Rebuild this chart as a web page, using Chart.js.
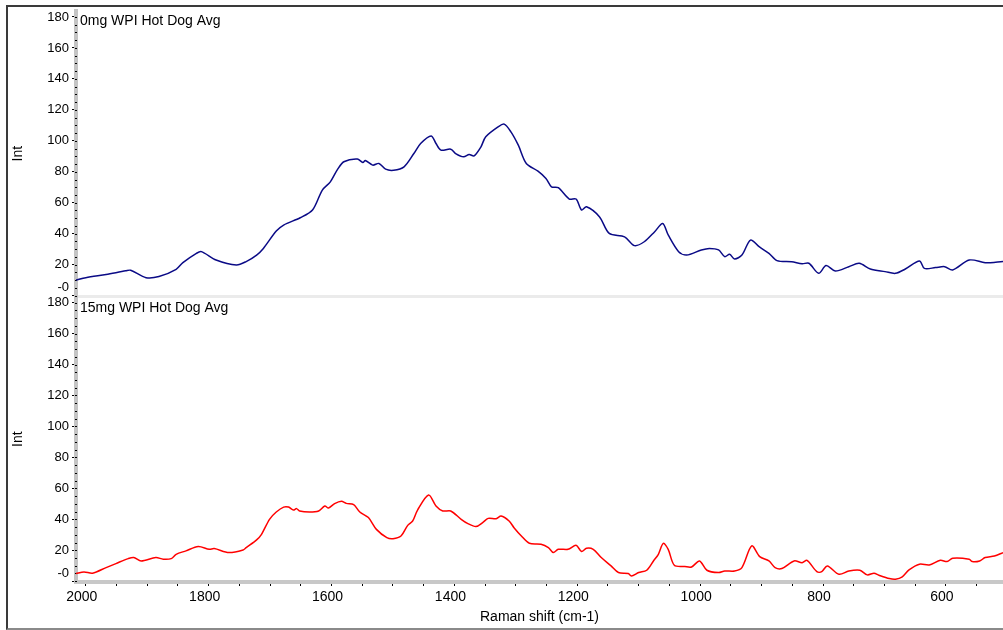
<!DOCTYPE html>
<html>
<head>
<meta charset="utf-8">
<title>Raman spectra</title>
<script src="https://cdn.jsdelivr.net/npm/chart.js@4.4.0/dist/chart.umd.min.js"></script>
<style>
  html, body { margin: 0; padding: 0; background: #fff; }
  #wrap { position: relative; width: 1003px; height: 630px; overflow: hidden; }
  #frame { position: absolute; left: 6px; top: 5px; width: 1010px; height: 621px;
           border: 2px solid #3a3a3a; border-bottom-color: #8a8a8a; }
  canvas { position: absolute; left: 0; top: 0; }
</style>
</head>
<body>
<div id="wrap">
  <div id="frame"></div>
  <canvas id="ramanChart" width="1003" height="630"></canvas>
</div>
<script>
// 0mg WPI spectrum (Raman shift cm-1 / intensity)
const shiftTop = [
  2016, 2000, 1967, 1935, 1927, 1902, 1881, 1853, 1842, 1820,
  1812, 1788, 1755, 1739, 1722, 1711, 1690, 1678, 1651, 1631,
  1615, 1602, 1590, 1580, 1558, 1549, 1545, 1533, 1523, 1512,
  1499, 1482, 1466, 1455, 1438, 1430, 1422, 1406, 1398, 1385,
  1376, 1368, 1357, 1349, 1329, 1319, 1308, 1296, 1283, 1264,
  1251, 1242, 1231, 1213, 1202, 1193, 1185, 1164, 1148, 1123,
  1107, 1091, 1074, 1061, 1052, 1035, 1022, 998, 985, 970,
  960, 952, 944, 932, 918, 904, 888, 875, 851, 834,
  823, 807, 795, 780, 758, 741, 723, 699, 682, 666,
  643, 635, 617, 602, 589, 562, 536, 519, 507
];
const intTop = [
  10, 11.6, 13.7, 16, 16.4, 11.6, 12.3, 17, 21.3, 27.3,
  28.4, 23, 19.8, 22, 26.2, 30.5, 41.7, 45.6, 50.3, 55.3,
  68.2, 73.5, 81.7, 86.5, 88.2, 86, 87.3, 84.3, 85.4, 81.7,
  81, 83.2, 91.8, 98.3, 103.2, 98.3, 94, 94.6, 91.8, 89.7,
  91.2, 90.3, 96, 102.6, 109, 110.8, 105.8, 97.2, 85.4, 80.4,
  75.7, 70.3, 69.7, 62.4, 62.4, 55.3, 57.4, 51, 40.2, 38,
  32.3, 34.8, 41.3, 46.6, 39.2, 28.4, 26.2, 29.5, 30.5, 29.5,
  25.2, 26.7, 23.7, 26.2, 35.9, 31.6, 27.3, 22.6, 21.9, 20.6,
  20.9, 14.4, 19.4, 15.9, 18.7, 20.9, 17.2, 15.5, 14.4, 17.2,
  22.4, 17.6, 18.1, 18.7, 16.6, 23, 21.3, 21.5, 22
];

// 15mg WPI spectrum
const shiftBottom = [
  2016, 2003, 1989, 1967, 1951, 1931, 1922, 1910, 1886, 1874,
  1861, 1853, 1837, 1817, 1799, 1791, 1767, 1744, 1739, 1722,
  1714, 1701, 1690, 1678, 1670, 1662, 1657, 1652, 1636, 1621,
  1611, 1605, 1595, 1584, 1576, 1564, 1554, 1540, 1527, 1510,
  1500, 1487, 1476, 1468, 1460, 1442, 1430, 1419, 1406, 1389,
  1378, 1365, 1354, 1345, 1332, 1324, 1311, 1303, 1291, 1278,
  1259, 1247, 1239, 1231, 1215, 1202, 1193, 1185, 1174, 1161,
  1145, 1133, 1117, 1112, 1100, 1087, 1076, 1068, 1060, 1052,
  1042, 1025, 1014, 1001, 989, 970, 960, 944, 932, 916,
  903, 888, 878, 867, 847, 834, 826, 810, 802, 793,
  774, 758, 740, 728, 717, 709, 692, 682, 671, 660,
  643, 627, 609, 598, 589, 562, 557, 545, 536, 521,
  507
];
const intBottom = [
  5, 6, 5.2, 8.8, 11.4, 14.6, 15.3, 13.1, 15.3, 14.2,
  14.6, 17.4, 19.6, 22.4, 20.6, 21.1, 18.5, 20.2, 21.7, 26.7,
  30.3, 40, 44.7, 47.9, 47.9, 46, 46.9, 45.4, 44.7, 45.4,
  48.6, 47.3, 50.1, 51.6, 50.3, 49.5, 44.7, 41.1, 33.5, 28.2,
  27.5, 29.2, 36.1, 38.9, 46, 55.7, 48.6, 45.4, 45.4, 40,
  37.2, 35.3, 37.9, 40.6, 40.4, 42.1, 38.9, 34.6, 29.2, 24.5,
  23.9, 21.7, 18.5, 20.6, 20.6, 23.2, 19.2, 21.3, 20.6, 15.3,
  9.9, 5.6, 5, 3.4, 5.6, 7.1, 13.1, 17.4, 24.5, 20.6,
  10.3, 9.5, 9.2, 13.1, 7.1, 5.6, 6.6, 6.6, 8.8, 22.8,
  15.9, 13.1, 8.8, 8.2, 13.1, 12, 13.5, 6.2, 6.2, 9.9,
  4.5, 6.6, 7.1, 4.1, 5.2, 3.9, 1.7, 1.3, 2.8, 7.3,
  11, 10.5, 13.5, 12.7, 14.8, 14.2, 12.7, 13.1, 15.3, 16.3,
  18.5
];

const panelTitles = ['0mg WPI Hot Dog Avg', '15mg WPI Hot Dog Avg'];
const xTickLabels = [2000, 1800, 1600, 1400, 1200, 1000, 800, 600];
const yTickLabels = [0, 20, 40, 60, 80, 100, 120, 140, 160, 180];

const FONT = 'Arial, "Liberation Sans", sans-serif';

const toPoints = (xs, ys) => xs.map((x, i) => ({ x: x, y: ys[i] }));

// x ticks every 50 cm-1, labels only on the 200 marks
const xTickValues = [];
for (let v = 2000; v >= 550; v -= 50) xTickValues.push(v);

// light band between panels, minor ticks on the y bars, panel captions
const panelDecor = {
    id: 'panelDecor',
    beforeDatasetsDraw(chart) {
        const { ctx, chartArea, scales } = chart;
        const top = scales.yTop;
        const bot = scales.yBottom;
        ctx.save();
        ctx.strokeStyle = '#ebebeb';
        ctx.lineWidth = 3;
        ctx.beginPath();
        ctx.moveTo(chartArea.left + 2, bot.top);
        ctx.lineTo(chartArea.right, bot.top);
        ctx.stroke();

        ctx.fillStyle = '#000';
        [top, bot].forEach(s => {
            for (let v = 0; v <= 180; v += 5) {
                const y = Math.round(s.getPixelForValue(v));
                ctx.fillRect(s.right - 1, y, 2, 1);
            }
        });

        ctx.font = '14px ' + FONT;
        ctx.textBaseline = 'middle';
        ctx.fillText(panelTitles[0], chartArea.left + 4, top.top + 10);
        ctx.fillText(panelTitles[1], chartArea.left + 4, bot.top + 12);
        ctx.restore();
    }
};

const yAxis = (title) => ({
    type: 'linear',
    position: 'left',
    stack: 'panels',
    stackWeight: 1,
    min: -0.5,
    max: 184,
    afterBuildTicks: s => { s.ticks = yTickLabels.map(v => ({ value: v })); },
    afterFit: s => { s.width = 76; },
    ticks: {
        autoSkip: false,
        padding: 3,
        color: '#000',
        font: { family: FONT, size: 13 },
        callback: v => (v === 0 ? ['-0', ''] : String(v))
    },
    grid: { display: true, drawOnChartArea: false, drawTicks: true, tickLength: 4, tickColor: '#000', tickWidth: 1 },
    border: { display: true, color: '#c4c4c4', width: 4 },
    title: { display: true, text: title, color: '#000', font: { family: FONT, size: 14 }, padding: { top: 10, bottom: 0 } }
});

const ctx = document.getElementById('ramanChart').getContext('2d');

new Chart(ctx, {
    type: 'line',
    data: {
        datasets: [
            {
                label: panelTitles[0],
                data: toPoints(shiftTop, intTop),
                yAxisID: 'yTop',
                borderColor: '#0a0a86',
                borderWidth: 1.5
            },
            {
                label: panelTitles[1],
                data: toPoints(shiftBottom, intBottom),
                yAxisID: 'yBottom',
                borderColor: '#ff0000',
                borderWidth: 1.5
            }
        ]
    },
    options: {
        responsive: false,
        animation: false,
        layout: { padding: { top: 9, right: 0, bottom: 0, left: 0 } },
        elements: { point: { radius: 0 }, line: { tension: 0.3 } },
        plugins: { legend: { display: false }, tooltip: { enabled: false } },
        scales: {
            x: {
                type: 'linear',
                position: 'bottom',
                reverse: true,
                min: 507,
                max: 2016,
                afterBuildTicks: s => { s.ticks = xTickValues.map(v => ({ value: v })); },
                afterFit: s => { s.height = 48; },
                ticks: {
                    autoSkip: false,
                    maxRotation: 0,
                    padding: 3,
                    labelOffset: -4,
                    color: '#000',
                    font: { family: FONT, size: 14 },
                    callback: v => (xTickLabels.includes(v) ? String(v) : '')
                },
                grid: { display: true, drawOnChartArea: false, drawTicks: true, tickLength: 4, tickColor: '#000', tickWidth: 1 },
                border: { display: true, color: '#c8c8c8', width: 4 },
                title: { display: true, text: 'Raman shift (cm-1)', color: '#000', font: { family: FONT, size: 14 }, padding: { top: 2, bottom: 4 } }
            },
            // stacked axes: the one listed first ends up at the bottom
            yBottom: yAxis('Int'),
            yTop: yAxis('Int')
        }
    },
    plugins: [panelDecor]
});
</script>
</body>
</html>
